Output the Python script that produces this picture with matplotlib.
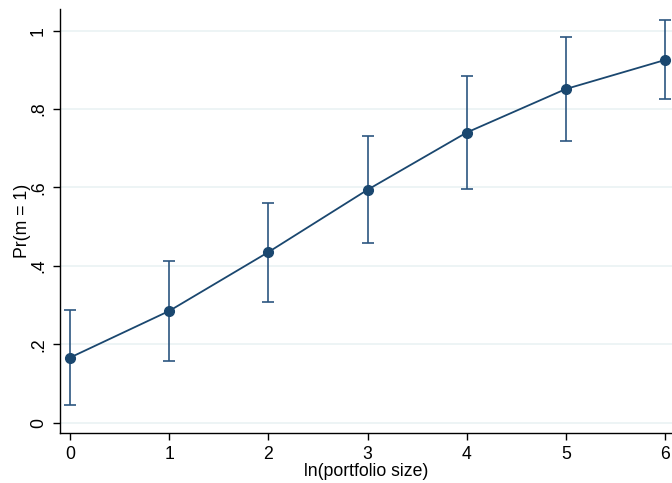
import matplotlib
matplotlib.use("Agg")
import matplotlib.pyplot as plt

x = [0, 1, 2, 3, 4, 5, 6]
prob = [0.166, 0.285, 0.435, 0.594, 0.740, 0.851, 0.925]
upper = [0.287, 0.413, 0.561, 0.730, 0.884, 0.984, 1.026]
lower = [0.045, 0.157, 0.308, 0.459, 0.595, 0.719, 0.825]
yticks = [0, 0.2, 0.4, 0.6, 0.8, 1.0]
ytick_labels = ["0", ".2", ".4", ".6", ".8", "1"]

plt.rcParams['font.family'] = ['Liberation Sans', 'DejaVu Sans']

fig = plt.figure(figsize=(6.72, 4.83), dpi=100)
ax = fig.add_axes([59.5/672, 1-433.3/483, 1-59.5/672, (433.3-9)/483])

col = "#1a476f"
yerr = [[p - l for p, l in zip(prob, lower)], [u - p for p, u in zip(prob, upper)]]
ax.errorbar(x, prob, yerr=yerr, fmt='none', ecolor='#2c5680', elinewidth=1.2,
            capsize=4.2, capthick=1.2, zorder=2)
ax.plot(x, prob, color=col, lw=1.3, marker='o', markersize=7, zorder=3)

ax.set_xlim(-0.106, 6.07)
ax.set_ylim(-0.027, 1.055)
ax.set_xticks(x)
ax.set_yticks(yticks)
ax.set_yticklabels(ytick_labels, rotation=90, va='center')
ax.tick_params(axis='both', labelsize=12.7, length=5, width=1, color='black', pad=4)
for yv in yticks:
    ax.axhline(yv, color='#eaf2f3', lw=1.2, zorder=0)
for s in ['top', 'right']:
    ax.spines[s].set_visible(False)
for s in ['left', 'bottom']:
    ax.spines[s].set_color('black')
    ax.spines[s].set_linewidth(1)
ax.set_xlabel("ln(portfolio size)", fontsize=12.7, labelpad=0.5)
ax.set_ylabel("Pr(m = 1)", fontsize=12.7, labelpad=-1)

fig.savefig("out.png", dpi=100)
